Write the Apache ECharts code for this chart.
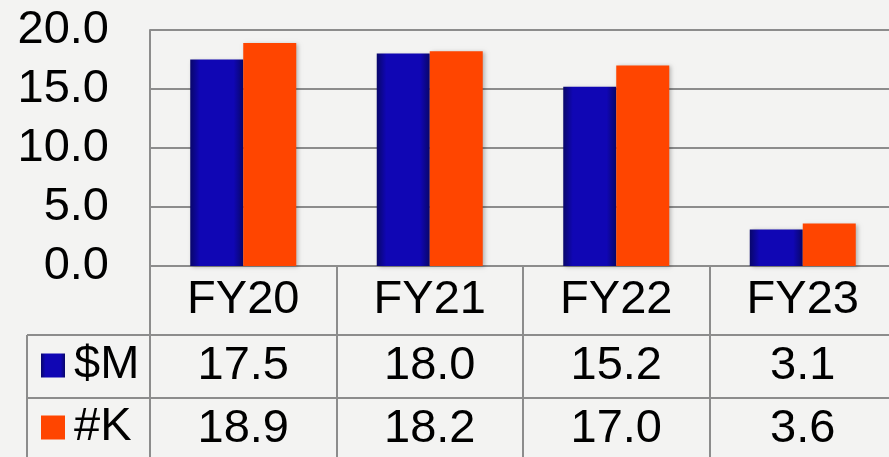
<!DOCTYPE html>
<html>
<head>
<meta charset="utf-8">
<script src="https://cdn.jsdelivr.net/npm/echarts@6/dist/echarts.min.js"></script>
<style>
  html, body { margin: 0; padding: 0; background: #f3f3f2; }
  #c1 { width: 889px; height: 457px; }
</style>
</head>
<body>
<div id="c1"></div>
<script>
// data
var categories = ["FY20", "FY21", "FY22", "FY23"];
var seriesNames = ["$M", "#K"];
var dollarsM = [17.5, 18.0, 15.2, 3.1];
var countK = [18.9, 18.2, 17.0, 3.6];
var yTicks = [0, 5, 10, 15, 20];

var font = "'Liberation Sans', Arial, sans-serif";
var fsize = 47;
var gridGray = "#8c8c8c";

var blueFill = new echarts.graphic.LinearGradient(0, 0, 1, 0, [
  { offset: 0, color: "#08066a" },
  { offset: 0.18, color: "#1006b4" },
  { offset: 0.82, color: "#1006b4" },
  { offset: 1, color: "#08066a" },
]);

var chartDom = document.getElementById("c1");
var myChart = echarts.init(chartDom);
var option;

function tableAxis(values, offset) {
  return {
    type: "category",
    data: categories,
    position: "bottom",
    offset: offset,
    axisLine: { show: false },
    axisTick: { show: false },
    axisLabel: {
      interval: 0,
      margin: 8,
      fontSize: fsize,
      fontFamily: font,
      color: "#000",
      formatter: function (v, i) {
        return values[i].toFixed(1);
      },
    },
  };
}

function legendAt(name, top) {
  return {
    data: [name],
    left: 36,
    top: top,
    orient: "vertical",
    itemWidth: 24,
    itemHeight: 24,
    icon: "rect",
    textStyle: { fontSize: fsize, fontFamily: font, color: "#000", padding: [0, 0, 0, 4] },
  };
}

option = {
  animation: false,
  backgroundColor: "#f3f3f2",
  grid: {
    left: 150,
    top: 30,
    width: 746,
    bottom: 191,
    containLabel: false,
    outerBoundsMode: "none",
  },
  legend: [legendAt(seriesNames[0], 337), legendAt(seriesNames[1], 399)],
  xAxis: [
    {
      type: "category",
      data: categories,
      axisLine: { show: true, lineStyle: { color: gridGray, width: 2 } },
      axisTick: { show: true, interval: 0, length: 200, lineStyle: { color: gridGray, width: 2 } },
      axisLabel: {
        interval: 0,
        margin: 11,
        fontSize: fsize,
        fontFamily: font,
        color: "#000",
      },
    },
    tableAxis(dollarsM, 69),
    tableAxis(countK, 132),
  ],
  yAxis: {
    type: "value",
    min: yTicks[0],
    max: yTicks[yTicks.length - 1],
    interval: yTicks[1] - yTicks[0],
    axisLine: { show: true, lineStyle: { color: gridGray, width: 2 } },
    axisTick: { show: false },
    splitLine: { show: true, lineStyle: { color: gridGray, width: 2 } },
    axisLabel: {
      margin: 41,
      fontSize: fsize,
      fontFamily: font,
      color: "#000",
      formatter: function (v) {
        return v.toFixed(1);
      },
    },
  },
  graphic: [
    { type: "line", shape: { x1: 27, y1: 335, x2: 889, y2: 335 }, style: { stroke: gridGray, lineWidth: 2 } },
    { type: "line", shape: { x1: 27, y1: 398, x2: 889, y2: 398 }, style: { stroke: gridGray, lineWidth: 2 } },
    { type: "line", shape: { x1: 27, y1: 335, x2: 27, y2: 457 }, style: { stroke: gridGray, lineWidth: 2 } },
  ],
  series: [
    {
      name: seriesNames[0],
      type: "bar",
      data: dollarsM,
      barWidth: 53,
      barGap: "0%",
      itemStyle: {
        color: blueFill,
        shadowBlur: 4,
        shadowColor: "rgba(0,0,0,0.25)",
        shadowOffsetX: 2,
        shadowOffsetY: 1,
      },
    },
    {
      name: seriesNames[1],
      type: "bar",
      data: countK,
      barWidth: 53,
      barGap: "0%",
      itemStyle: {
        color: "#ff4500",
        shadowBlur: 4,
        shadowColor: "rgba(0,0,0,0.25)",
        shadowOffsetX: 2,
        shadowOffsetY: 1,
      },
    },
  ],
};
myChart.setOption(option);
window.addEventListener("resize", function () {
  myChart.resize();
});
</script>
</body>
</html>
